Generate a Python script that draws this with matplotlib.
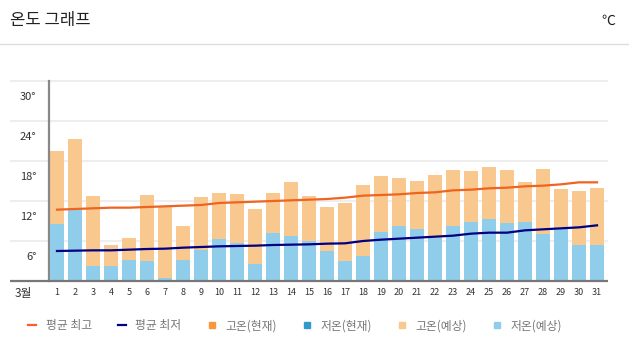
import matplotlib
matplotlib.use("Agg")
import matplotlib.pyplot as plt
import matplotlib.transforms as mtransforms
from matplotlib.lines import Line2D

plt.rcParams['font.family'] = ['Noto Sans CJK KR', 'DejaVu Sans']

# data (March, degrees C)
days = list(range(1, 32))
high_forecast = [19.5, 21.3, 12.8, 5.4, 6.5, 12.9, 11.3, 8.3, 12.6, 13.2, 13.1, 10.8, 13.2, 14.9, 12.8, 11.1,
                 11.7, 14.4, 15.8, 15.5, 15.0, 15.9, 16.7, 16.5, 17.1, 16.7, 14.9, 16.8, 13.8, 13.5, 14.0]
low_forecast = [8.6, 10.7, 2.3, 2.3, 3.2, 3.0, 0.5, 3.2, 4.7, 6.3, 5.7, 2.6, 7.2, 6.8, 6.0, 4.5,
                3.0, 3.7, 7.4, 8.3, 7.8, 6.5, 8.3, 8.9, 9.3, 8.7, 8.9, 7.1, 7.8, 5.4, 5.4]
avg_high = [10.7, 10.8, 10.9, 11.0, 11.0, 11.1, 11.2, 11.3, 11.4, 11.7, 11.8, 11.9, 12.0, 12.1, 12.2, 12.3,
            12.5, 12.8, 12.9, 13.0, 13.2, 13.3, 13.6, 13.7, 13.9, 14.0, 14.2, 14.3, 14.5, 14.8, 14.8]
avg_low = [4.5, 4.55, 4.6, 4.6, 4.7, 4.8, 4.85, 5.0, 5.1, 5.2, 5.25, 5.3, 5.4, 5.45, 5.5, 5.6,
           5.65, 6.0, 6.2, 6.35, 6.5, 6.65, 6.8, 7.1, 7.25, 7.25, 7.6, 7.75, 7.9, 8.05, 8.35]
y_ticks = [0, 6, 12, 18, 24, 30]
y_labels = ['', '6°', '12°', '18°', '24°', '30°']
legend_labels = ['평균 최고', '평균 최저', '고온(현재)', '저온(현재)', '고온(예상)', '저온(예상)']

c_avg_high = '#ee6420'
c_avg_low = '#000080'
c_high_now = '#f7983f'
c_low_now = '#3399cc'
c_high_fc = '#f9c88e'
c_low_fc = '#90cdea'

W, H = 629, 353
fig = plt.figure(figsize=(W / 100, H / 100), dpi=100)
ax = fig.add_axes([49 / W, 1 - 281 / H, 559 / W, 200 / H])

ax.bar(days, high_forecast, width=0.78, color=c_high_fc, zorder=2)
ax.bar(days, low_forecast, width=0.78, color=c_low_fc, zorder=3)
ax.plot(days, avg_high, color=c_avg_high, lw=1.6, zorder=4)
ax.plot(days, avg_low, color=c_avg_low, lw=1.6, zorder=4)

ax.set_xlim(0.556, 31.61)
ax.set_ylim(0, 30)

# grid lines reaching out to the left of the axis
ax.hlines(y_ticks[1:], -0.07, 1.0, transform=ax.get_yaxis_transform(),
          color='#eeeeee', lw=1.5, zorder=0, clip_on=False)
ax.hlines([0], -0.07, 1.0, transform=ax.get_yaxis_transform(),
          color='#777777', lw=1.6, zorder=5, clip_on=False)

for side in ['top', 'right', 'bottom']:
    ax.spines[side].set_visible(False)
ax.spines['left'].set_color('#888888')
ax.spines['left'].set_linewidth(1.6)

ax.set_xticks(days)
ax.set_xticklabels([str(d) for d in days], fontsize=6.5, color='#333333')
ax.tick_params(axis='x', length=0, pad=5)
ax.set_yticks(y_ticks)
ax.set_yticklabels(y_labels, fontsize=8, color='#333333')
ax.tick_params(axis='y', length=0, pad=9)
shift = mtransforms.ScaledTranslation(0, -0.145, fig.dpi_scale_trans)
for lab in ax.get_yticklabels():
    lab.set_transform(lab.get_transform() + shift)

fig.text(23 / W, 1 - 293 / H, '3월', fontsize=8.5, color='#333333', ha='center', va='center')

# header
fig.text(10 / W, 1 - 21 / H, '온도 그래프', fontsize=12, color='#222222', va='center')
fig.text(615 / W, 1 - 21 / H, '℃', fontsize=10, color='#222222', va='center', ha='right')
fig.add_artist(Line2D([0, 1], [1 - 44 / H, 1 - 44 / H], transform=fig.transFigure,
                      color='#dddddd', lw=1))

handles = [
    Line2D([], [], color=c_avg_high, lw=1.6),
    Line2D([], [], color=c_avg_low, lw=1.6),
    Line2D([], [], ls='none', marker='s', ms=5, color=c_high_now),
    Line2D([], [], ls='none', marker='s', ms=5, color=c_low_now),
    Line2D([], [], ls='none', marker='s', ms=5, color=c_high_fc),
    Line2D([], [], ls='none', marker='s', ms=5, color=c_low_fc),
]
fig.legend(handles, legend_labels, loc='center left', bbox_to_anchor=(22 / W, 1 - 326 / H),
           ncol=6, frameon=False, fontsize=8.5, labelcolor='#777777',
           handlelength=0.7, handletextpad=0.8, columnspacing=2.2, borderpad=0)

fig.savefig('out.png', dpi=100)
